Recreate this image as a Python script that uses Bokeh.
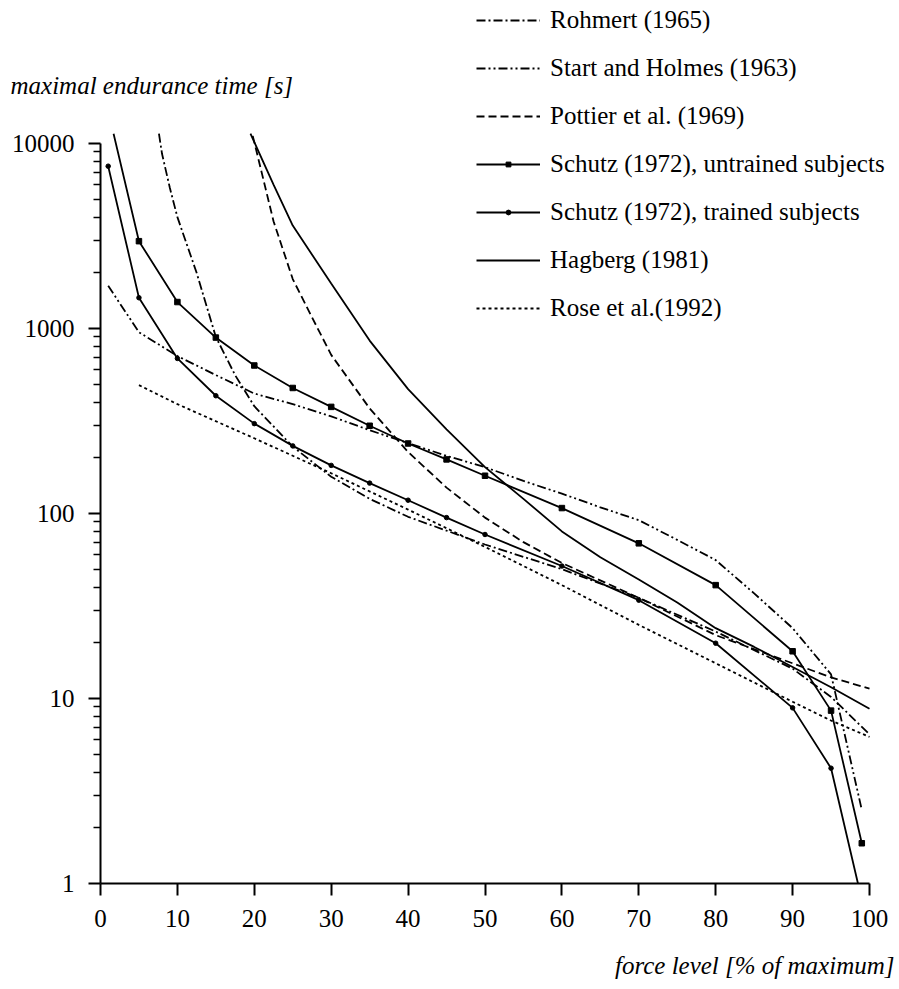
import math
from bokeh.plotting import figure
from bokeh.models import FixedTicker, PrintfTickFormatter, Legend, LegendItem, Label, Range1d
from bokeh.embed import file_html
from bokeh.resources import INLINE

# ---- data (force level in % of maximum, maximal endurance time in s) ----
force_rohmert = [7.6, 8, 9, 10, 12.5, 15, 17.5, 20, 25, 30, 35, 40, 50, 60, 70, 80, 90, 95, 100]
time_rohmert = [11300, 8800, 5800, 4000, 2000, 900, 560, 380, 230, 158, 120, 96, 68, 50, 35, 23, 14.5, 10.2, 6.4]

force_start = [1, 5, 10, 15, 20, 25, 30, 35, 40, 45, 50, 55, 60, 65, 70, 75, 80, 85, 90, 95, 99]
time_start = [1700, 955, 710, 560, 445, 390, 335, 282, 240, 205, 178, 150, 128, 108, 92, 72, 56, 37, 24, 13.5, 2.5]

force_pottier = [19.8, 22.5, 25, 27.5, 30, 35, 40, 45, 50, 55, 60, 70, 80, 90, 95, 100]
time_pottier = [11000, 3800, 1850, 1150, 720, 370, 215, 138, 95, 70, 54, 35, 22, 15.5, 13, 11.3]

force_untrained = [1.7, 5, 10, 15, 20, 25, 30, 35, 40, 45, 50, 60, 70, 80, 90, 95, 99]
time_untrained = [11300, 2965, 1390, 893, 631, 477, 377, 298, 239, 196, 160, 107, 69, 41, 18, 8.6, 1.65]

force_trained = [1, 5, 10, 15, 20, 25, 30, 35, 40, 45, 50, 60, 70, 80, 90, 95, 98.5]
time_trained = [7540, 1466, 689, 433, 306, 232, 182, 146, 118, 95, 77, 52, 34, 19.9, 8.9, 4.2, 1.0]

force_hagberg = [19.5, 22.5, 25, 30, 35, 40, 45, 50, 55, 60, 65, 70, 75, 80, 85, 90, 95, 100]
time_hagberg = [11300, 6000, 3600, 1750, 860, 470, 285, 178, 120, 80, 58, 44, 33, 24, 19, 14.8, 11.5, 8.8]

force_rose = [5, 10, 20, 30, 40, 50, 60, 70, 80, 90, 95, 100]
time_rose = [494, 390, 255, 165, 105, 66, 41, 25, 15.5, 9.6, 7.6, 6.2]

x_ticks = [0, 10, 20, 30, 40, 50, 60, 70, 80, 90, 100]
y_ticks = [1, 10, 100, 1000, 10000]
y_minor = [m * d for d in (1, 10, 100, 1000) for m in range(2, 10)]

labels = ["Rohmert (1965)", "Start and Holmes (1963)", "Pottier et al. (1969)",
          "Schutz (1972), untrained subjects", "Schutz (1972), trained subjects",
          "Hagberg (1981)", "Rose et al.(1992)"]

# ---- layout (pixels) ----
W, H = 897, 985
X0_PX, X100_PX = 100, 869      # canvas x of force 0 and 100
Y1_PX, DEC_PX = 883, 185       # canvas y of time 1, pixels per decade
px_per_unit = (X100_PX - X0_PX) / 100.0
x_start = -X0_PX / px_per_unit
x_end = (W - X0_PX) / px_per_unit
y_start = 10 ** (-(H - Y1_PX) / DEC_PX)
y_end = 10 ** (Y1_PX / DEC_PX)

FONT = "Liberation Serif"
FS = "25px"

p = figure(width=W, height=H, y_axis_type="log",
           x_range=Range1d(x_start, x_end), y_range=Range1d(y_start, y_end),
           output_backend="svg", toolbar_location=None,
           min_border_left=0, min_border_right=0, min_border_top=0, min_border_bottom=0)
p.grid.visible = False
p.outline_line_color = None
p.background_fill_color = "white"
p.border_fill_color = "white"

for ax in (p.xaxis[0], p.yaxis[0]):
    ax.axis_line_width = 2
    ax.axis_line_color = "black"
    ax.major_tick_line_width = 2
    ax.major_tick_line_color = "black"
    ax.major_tick_in = 0
    ax.major_tick_out = 12
    ax.major_label_text_font = FONT
    ax.major_label_text_font_size = FS
    ax.major_label_text_color = "black"
    ax.major_label_standoff = 14

p.xaxis.fixed_location = 1              # x axis sits at time = 1
p.yaxis.fixed_location = 0              # y axis sits at force = 0
p.xaxis.bounds = (0, 100)
p.yaxis.bounds = (1, 10000)
p.xaxis.ticker = FixedTicker(ticks=x_ticks)
p.xaxis.minor_tick_out = 0
p.yaxis.ticker = FixedTicker(ticks=y_ticks, minor_ticks=y_minor)
p.yaxis.formatter = PrintfTickFormatter(format="%d")
p.yaxis.minor_tick_in = 0
p.yaxis.minor_tick_out = 7
p.yaxis.minor_tick_line_width = 1.5
p.yaxis.minor_tick_line_color = "black"

LW = 1.8
r_roh = p.line(force_rohmert, time_rohmert, line_color="black", line_width=LW, line_dash="9 3 2 3")
r_sh = p.line(force_start, time_start, line_color="black", line_width=LW, line_dash="9 3 2 3 2 3")
r_pot = p.line(force_pottier, time_pottier, line_color="black", line_width=LW, line_dash="8 4")
r_un = p.line(force_untrained, time_untrained, line_color="black", line_width=LW)
m_un = p.scatter(force_untrained[1:], time_untrained[1:], marker="square", size=5.5, color="black")
r_tr = p.line(force_trained, time_trained, line_color="black", line_width=LW)
m_tr = p.scatter(force_trained[:-1], time_trained[:-1], marker="circle", size=4.5, color="black")
r_hag = p.line(force_hagberg, time_hagberg, line_color="black", line_width=LW)
r_rose = p.line(force_rose, time_rose, line_color="black", line_width=LW, line_dash="3 3")

items = [
    LegendItem(label=labels[0], renderers=[r_roh]),
    LegendItem(label=labels[1], renderers=[r_sh]),
    LegendItem(label=labels[2], renderers=[r_pot]),
    LegendItem(label=labels[3], renderers=[r_un, m_un]),
    LegendItem(label=labels[4], renderers=[r_tr, m_tr]),
    LegendItem(label=labels[5], renderers=[r_hag]),
    LegendItem(label=labels[6], renderers=[r_rose]),
]
legend = Legend(items=items, location=(476, H - 323), label_text_font=FONT, label_text_font_size=FS,
                label_text_color="black", glyph_width=64, glyph_height=12, label_height=30,
                spacing=18, padding=0, margin=0, border_line_alpha=0, background_fill_alpha=0,
                label_standoff=10)
p.add_layout(legend)

p.add_layout(Label(x=10, y=H - 85, x_units="screen", y_units="screen",
                   text="maximal endurance time [s]", text_font=FONT, text_font_style="italic",
                   text_font_size=FS, text_baseline="middle", text_color="black"))
p.add_layout(Label(x=W - 3, y=H - 965, x_units="screen", y_units="screen",
                   text="force level [% of maximum]", text_font=FONT, text_font_style="italic",
                   text_font_size=FS, text_baseline="middle", text_align="right", text_color="black"))

open("out.html", "w").write(file_html(p, INLINE))
